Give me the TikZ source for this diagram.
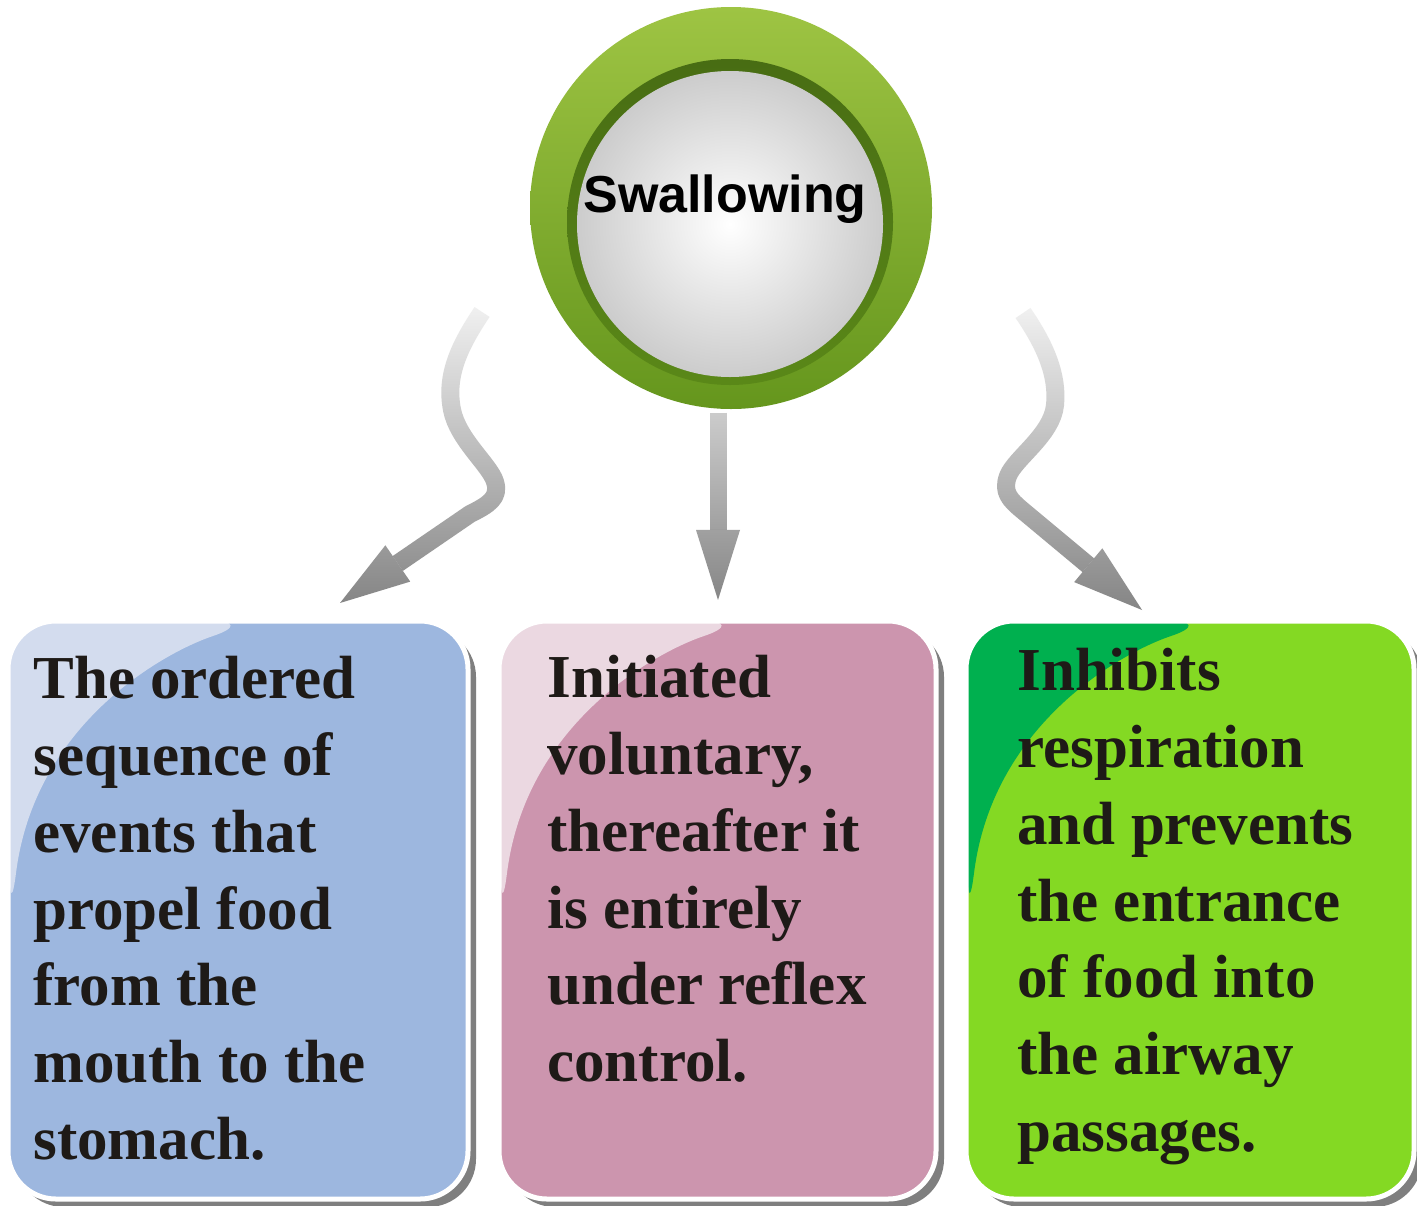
\documentclass[tikz,border=0pt]{standalone}
\usepackage{fontspec}
\setmainfont{Liberation Serif}
\newfontfamily\hubfont{Liberation Sans}
\usetikzlibrary{arrows.meta,shadows,fadings,calc}

\definecolor{cardblue}{HTML}{9DB7DF}
\definecolor{glossblue}{HTML}{D3DCEE}
\definecolor{cardpink}{HTML}{CC95AE}
\definecolor{glosspink}{HTML}{EBD8E1}
\definecolor{cardgreen}{HTML}{84D923}
\definecolor{glossgreen}{HTML}{00B04F}
\definecolor{ringlight}{HTML}{9EC443}
\definecolor{ringdark}{HTML}{65961D}
\definecolor{ringband}{HTML}{5A8818}
\definecolor{inktext}{HTML}{1E1A17}
\definecolor{arrowgray}{HTML}{7F7F7F}

\tikzfading[name=arrowfade, top color=transparent!95, bottom color=transparent!0]
\tikzfading[name=stemfade, top color=transparent!65, bottom color=transparent!0]

\tikzset{
  card/.style={rectangle, draw=white, line width=2.5pt, rounded corners=24pt,
    minimum height=289pt, inner sep=0pt,
    drop shadow={shadow xshift=4pt, shadow yshift=-4pt, fill=arrowgray, opacity=1},
    path picture={\fill[#1] (path picture bounding box.north west) -- ++(250,0)
      .. controls +(-90,30) and +(25,-200) .. ($(path picture bounding box.north west)+(2,300)$) -- cycle;}},
  cardtext/.style={anchor=north west, inner sep=0pt, align=left, text=inktext,
    font=\fontsize{30.5}{38.4}\selectfont\bfseries},
  flow/.style={draw=arrowgray, line width=9pt, line join=round,
    -{Triangle[length=35pt, width=22pt, line width=0pt]}}
}

\begin{document}
\begin{tikzpicture}[x=0.5pt, y=-0.5pt]
\useasboundingbox[fill=white] (0,0) rectangle (1417,1205);

% hub
\node[circle, minimum size=201pt, inner sep=0pt, top color=ringlight, bottom color=ringdark] (hub) at (731,208) {};
\shade[top color=ringband!80!black, bottom color=ringband] (730,222) circle [radius=163];
\shade[inner color=white, outer color=black!20] (730,224) circle [radius=153];
\node[font=\hubfont\bfseries\fontsize{26}{30}\selectfont, anchor=base] (hubtext) at (725,212) {Swallowing};

% cards
\node[card=glossblue, fill=cardblue, minimum width=230pt] (bluebox) at (238,910) {};
\node[card=glosspink, fill=cardpink, minimum width=218.5pt] (pinkbox) at (717.5,910) {};
\node[card=glossgreen, fill=cardgreen, minimum width=224pt] (greenbox) at (1190,910) {};

\node[cardtext] (bluetext) at (33,656) {The ordered\\sequence of\\events that\\propel food\\from the\\mouth to the\\stomach.};
\node[cardtext] (pinktext) at (547,655) {Initiated\\voluntary,\\thereafter it\\is entirely\\under reflex\\control.};
\node[cardtext] (greentext) at (1017,648) {Inhibits\\respiration\\and prevents\\the entrance\\of food into\\the airway\\passages.};

% arrows
\coordinate (ls) at (482,312);
\coordinate (ltip) at (340,603);
\coordinate (cs) at (718,413);
\coordinate (ctip) at (718,600);
\coordinate (rs) at (1023,313);
\coordinate (rtip) at (1142,610);

\draw[flow, path fading=arrowfade] (320,295) (520,612) (ls)
  .. controls (460,345) and (445,375) .. (452,410)
  .. controls (458,440) and (490,465) .. (495,482)
  .. controls (500,498) and (488,505) .. (470,514) -- (ltip);
\draw[flow, line width=8.5pt, path fading=stemfade] (690,405) (746,612) (cs) -- (ctip);
\draw[flow, path fading=arrowfade] (990,296) (1165,618) (rs)
  .. controls (1045,345) and (1058,375) .. (1055,405)
  .. controls (1052,435) and (1015,458) .. (1008,476)
  .. controls (1002,492) and (1010,500) .. (1022,510) -- (rtip);
\end{tikzpicture}
\end{document}
